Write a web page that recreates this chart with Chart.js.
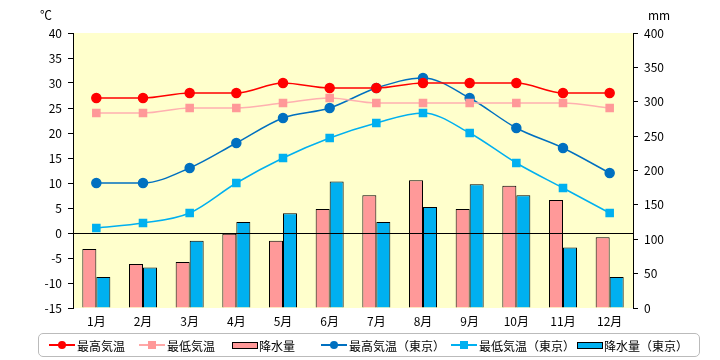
<!DOCTYPE html>
<html>
<head>
<meta charset="utf-8">
<script src="https://cdn.jsdelivr.net/npm/chart.js@4/dist/chart.umd.min.js"></script>
<style>
  html, body { margin: 0; padding: 0; background: #fff; }
  #wrap { position: relative; width: 720px; height: 360px; font-family: "Noto Sans CJK JP", "DejaVu Sans", sans-serif; }
  canvas { position: absolute; left: 0; top: 0; }
  .unit { position: absolute; font-size: 12px; color: #000; }
  #legend { position: absolute; left: 38px; top: 333px; width: 660px; height: 22px; border: 1px solid #bbb; border-radius: 5px; background: #fff; }
  .item { position: absolute; top: 0; height: 22px; display: flex; align-items: center; font-size: 12px; color: #000; white-space: nowrap; }
  .ln { position: relative; width: 26px; height: 10px; margin-right: 2px; }
  .ln .l { position: absolute; left: 0; right: 0; top: 4px; height: 2px; }
  .ln .m { position: absolute; left: 9px; top: 1px; width: 8px; height: 8px; }
  .bx { width: 26px; height: 7px; border: 1px solid #000; margin-right: 1px; box-sizing: border-box; }
</style>
</head>
<body>
<div id="wrap">
  <canvas id="c" width="720" height="360"></canvas>
  <div class="unit" style="left:40px; top:6px;">℃</div>
  <div class="unit" style="left:648px; top:6px;">mm</div>
  <div id="legend">
    <div class="item" style="left:10px;"><div class="ln"><div class="l" style="background:#FF0000"></div><div class="m" style="background:#FF0000;border-radius:50%"></div></div>最高気温</div>
    <div class="item" style="left:100px;"><div class="ln"><div class="l" style="background:#FFA8A8"></div><div class="m" style="background:#FF9999"></div></div>最低気温</div>
    <div class="item" style="left:193px;"><div class="bx" style="background:#FF9999"></div>降水量</div>
    <div class="item" style="left:282px;"><div class="ln"><div class="l" style="background:#0070C0"></div><div class="m" style="background:#0070C0;border-radius:50%"></div></div>最高気温（東京）</div>
    <div class="item" style="left:412px;"><div class="ln"><div class="l" style="background:#00B0F0"></div><div class="m" style="background:#00B0F0"></div></div>最低気温（東京）</div>
    <div class="item" style="left:538px;"><div class="bx" style="background:#00B0F0"></div>降水量（東京）</div>
  </div>
</div>
<script>
const months = ['1月','2月','3月','4月','5月','6月','7月','8月','9月','10月','11月','12月'];
const maxTemp = [27, 27, 28, 28, 30, 29, 29, 30, 30, 30, 28, 28];
const minTemp = [24, 24, 25, 25, 26, 27, 26, 26, 26, 26, 26, 25];
const precip = [86, 64, 67, 108, 98, 144, 164, 186, 144, 178, 157, 103];
const maxTempTokyo = [10, 10, 13, 18, 23, 25, 29, 31, 27, 21, 17, 12];
const minTempTokyo = [1, 2, 4, 10, 15, 19, 22, 24, 20, 14, 9, 4];
const precipTokyo = [45, 59, 98, 125, 138, 184, 125, 147, 180, 164, 88, 45];

const bgPlugin = {
  id: 'bg',
  beforeDraw(chart) {
    const a = chart.chartArea, ctx = chart.ctx;
    ctx.save();
    ctx.fillStyle = '#FFFFCC';
    ctx.fillRect(a.left, a.top, a.right - a.left, a.bottom - a.top);
    ctx.restore();
  },
  afterDatasetsDraw(chart) {
    const a = chart.chartArea, ctx = chart.ctx;
    const y = Math.round(chart.scales.y.getPixelForValue(0)) + 0.5;
    ctx.save();
    ctx.strokeStyle = '#000';
    ctx.lineWidth = 1;
    ctx.beginPath();
    ctx.moveTo(a.left, y);
    ctx.lineTo(a.right, y);
    ctx.stroke();
    ctx.restore();
  }
};

const font = { family: '"Noto Sans CJK JP", "DejaVu Sans", sans-serif', size: 12 };

new Chart(document.getElementById('c'), {
  type: 'bar',
  data: {
    labels: months,
    datasets: [
      { type: 'line', label: '最高気温', data: maxTemp, yAxisID: 'y', borderColor: '#FF0000', backgroundColor: '#FF0000', borderWidth: 1.5, pointStyle: 'circle', pointRadius: 4.5, cubicInterpolationMode: 'monotone', order: 1 },
      { type: 'line', label: '最低気温', data: minTemp, yAxisID: 'y', borderColor: '#FFB0B0', backgroundColor: '#FF9999', pointBorderColor: '#FF9999', borderWidth: 1.5, pointStyle: 'rect', pointRadius: 5, cubicInterpolationMode: 'monotone', order: 1 },
      { type: 'bar', label: '降水量', data: precip, yAxisID: 'y2', backgroundColor: '#FF9999', borderColor: '#000', borderWidth: 1, categoryPercentage: 0.6, barPercentage: 1, order: 2 },
      { type: 'line', label: '最高気温（東京）', data: maxTempTokyo, yAxisID: 'y', borderColor: '#0070C0', backgroundColor: '#0070C0', borderWidth: 1.5, pointStyle: 'circle', pointRadius: 4.5, cubicInterpolationMode: 'monotone', order: 1 },
      { type: 'line', label: '最低気温（東京）', data: minTempTokyo, yAxisID: 'y', borderColor: '#00B0F0', backgroundColor: '#00B0F0', borderWidth: 1.5, pointStyle: 'rect', pointRadius: 5, cubicInterpolationMode: 'monotone', order: 1 },
      { type: 'bar', label: '降水量（東京）', data: precipTokyo, yAxisID: 'y2', backgroundColor: '#00B0F0', borderColor: '#000', borderWidth: 1, categoryPercentage: 0.6, barPercentage: 1, order: 2 }
    ]
  },
  options: {
    responsive: false,
    animation: false,
    layout: { padding: { top: 33, bottom: 30, left: 0, right: 0 } },
    plugins: { legend: { display: false }, tooltip: { enabled: false } },
    scales: {
      x: {
        offset: true,
        grid: { display: false },
        border: { display: false },
        ticks: { font: font, color: '#000', padding: -2, maxRotation: 0 },
        afterFit(s) { s.height = 22; }
      },
      y: {
        position: 'left',
        min: -15, max: 40,
        ticks: { stepSize: 5, font: font, color: '#000', padding: 6 },
        grid: { drawOnChartArea: false, tickLength: 5, tickColor: '#000' },
        border: { display: true, color: '#000', width: 1 },
        afterFit(s) { s.width = 73; }
      },
      y2: {
        position: 'right',
        min: 0, max: 400,
        ticks: { stepSize: 50, font: font, color: '#000', padding: 6 },
        grid: { drawOnChartArea: false, tickLength: 5, tickColor: '#000' },
        border: { display: true, color: '#000', width: 1 },
        afterFit(s) { s.width = 87; }
      }
    }
  },
  plugins: [bgPlugin]
});
</script>
</body>
</html>
